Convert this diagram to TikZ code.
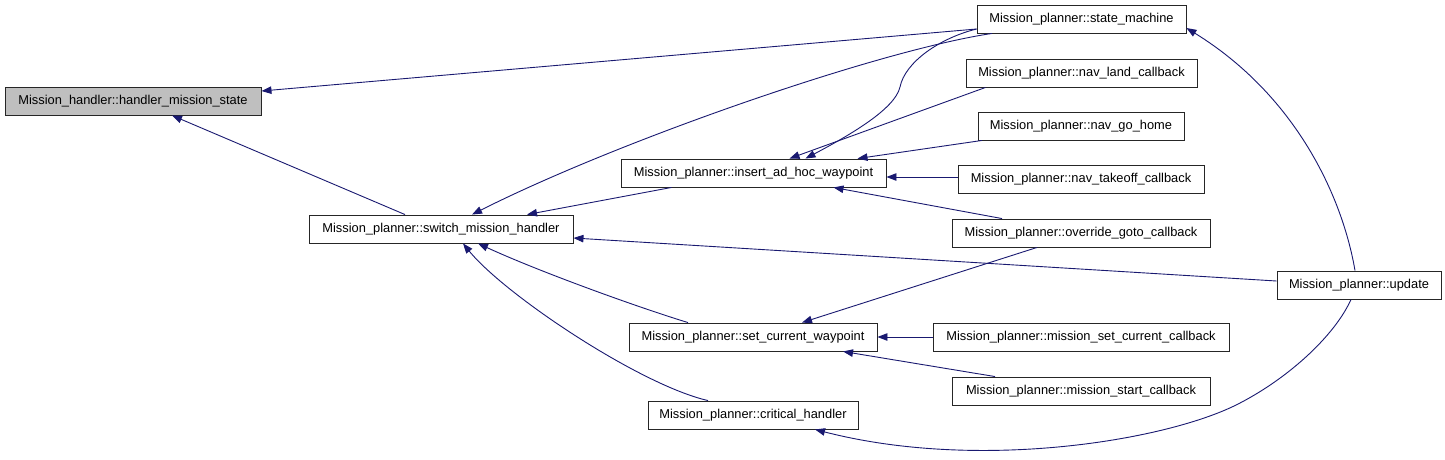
\documentclass[tikz,border=0pt]{standalone}
\usepackage{fontspec}
\setmainfont{Liberation Sans}
\usetikzlibrary{arrows.meta}
\definecolor{edgeblue}{HTML}{191970}
\definecolor{boxgray}{HTML}{BFBFBF}
\begin{document}
\begin{tikzpicture}[x=1pt,y=-1pt,
  font=\fontsize{12.85}{14}\selectfont,
  fn/.style={draw=black!85, line width=0.9pt, fill=white, minimum height=28pt, inner sep=0pt, anchor=center},
  edge/.style={draw=edgeblue, line width=0.9pt, -{Triangle[length=10pt,width=7.5pt,fill=edgeblue]}}]
\useasboundingbox (0,0) rectangle (1445,459);
% nodes
\node[fn, fill=boxgray, minimum width=256pt] (hm) at (133,101) {Mission\_handler::handler\_mission\_state};
\node[fn, minimum width=264pt] (sw) at (441,229) {Mission\_planner::switch\_mission\_handler};
\node[fn, minimum width=265pt] (ins) at (753.5,173) {Mission\_planner::insert\_ad\_hoc\_waypoint};
\node[fn, minimum width=248pt] (sc) at (753,337) {Mission\_planner::set\_current\_waypoint};
\node[fn, minimum width=210pt] (cr) at (753,415) {Mission\_planner::critical\_handler};
\node[fn, minimum width=209pt] (sm) at (1081.5,19) {Mission\_planner::state\_machine};
\node[fn, minimum width=231pt] (nl) at (1081.5,73) {Mission\_planner::nav\_land\_callback};
\node[fn, minimum width=206pt] (gh) at (1081,126) {Mission\_planner::nav\_go\_home};
\node[fn, minimum width=246pt] (to) at (1081,179) {Mission\_planner::nav\_takeoff\_callback};
\node[fn, minimum width=258pt] (ov) at (1081,233) {Mission\_planner::override\_goto\_callback};
\node[fn, minimum width=296pt] (msc) at (1081,337) {Mission\_planner::mission\_set\_current\_callback};
\node[fn, minimum width=258pt] (ms) at (1081,391) {Mission\_planner::mission\_start\_callback};
\node[fn, minimum width=164pt] (up) at (1359,285) {Mission\_planner::update};
% edges
\draw[edge] ([yshift=-10pt]sm.west) -- ([yshift=10pt]hm.east);
\draw[edge] ([xshift=-36pt]sw.north) -- ([xshift=39pt]hm.south);
\draw[edge] ([xshift=-89.5pt]sm.south) .. controls (880,50) and (620,140) .. ([xshift=31pt]sw.north);
\draw[edge] ([xshift=-82pt]ins.south) -- ([xshift=86pt]sw.north);
\draw[edge] ([yshift=4pt]up.west) -- ([yshift=-9pt]sw.east);
\draw[edge] ([xshift=-65pt]sc.north) .. controls (640,308) and (540,272) .. ([xshift=37pt]sw.south);
\draw[edge] ([xshift=-45pt]cr.north) .. controls (640,385) and (505,295) .. ([xshift=22pt]sw.south);
\draw[edge] ([xshift=-96pt]nl.south) -- ([xshift=36pt]ins.north);
\draw[edge] ([yshift=-10pt]sm.west) .. controls (940,38) and (905,62) .. (900,87)
   .. controls (895,109) and (850,135) .. ([xshift=52pt]ins.north);
\draw[edge] ([xshift=-99pt]gh.south) -- ([xshift=104pt]ins.north);
\draw[edge] ([yshift=2pt]to.west) -- ([yshift=-4pt]ins.east);
\draw[edge] ([xshift=-79pt]ov.north) -- ([xshift=80pt]ins.south);
\draw[edge] ([xshift=-44pt]ov.south) -- ([xshift=49pt]sc.north);
\draw[edge] (msc.west) -- (sc.east);
\draw[edge] ([xshift=-86pt]ms.north) -- ([xshift=90pt]sc.south);
\draw[edge] ([xshift=-4pt]up.north) .. controls (1342,195) and (1295,95) .. ([yshift=-9pt]sm.east);
\draw[edge] ([xshift=-8pt]up.south) .. controls (1335,335) and (1290,377) .. (1240,403)
   .. controls (1170,440) and (980,472) .. ([xshift=62pt]cr.south);
\end{tikzpicture}
\end{document}
